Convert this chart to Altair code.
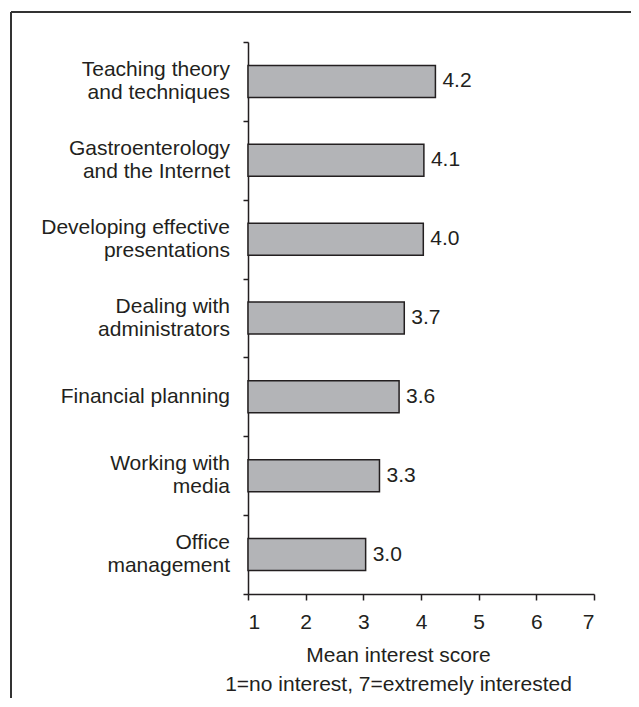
import altair as alt
import pandas as pd

categories = [
    "Teaching theory|and techniques",
    "Gastroenterology|and the Internet",
    "Developing effective|presentations",
    "Dealing with|administrators",
    "Financial planning",
    "Working with|media",
    "Office|management",
]
scores = [4.25, 4.05, 4.04, 3.71, 3.62, 3.28, 3.04]
score_labels = ["4.2", "4.1", "4.0", "3.7", "3.6", "3.3", "3.0"]
x_ticks = [1, 2, 3, 4, 5, 6, 7]
axis_title = ["Mean interest score", "1=no interest, 7=extremely interested"]

df = pd.DataFrame({"topic": categories, "score": scores, "label": score_labels})
frame_df = pd.DataFrame({"a": [0]})

FONT = "Liberation Sans, Arial, Helvetica, sans-serif"
INK = "#231f20"

y_scale = alt.Scale(paddingInner=0, paddingOuter=0)
x_scale = alt.Scale(domain=[1, 7], zero=False, nice=False)

y_axis = alt.Axis(
    title=None,
    labels=False,
    tickSize=5,
    tickBand="extent",
    tickColor=INK,
    tickWidth=1.5,
    domainColor=INK,
    domainWidth=1.5,
    grid=False,
)

x_axis = alt.Axis(
    values=x_ticks,
    format="d",
    title=axis_title,
    titleX=150,
    titleY=67.5,
    titleAlign="center",
    titleBaseline="alphabetic",
    titleFont=FONT,
    titleFontSize=21,
    titleFontWeight="normal",
    titleColor=INK,
    titleLineHeight=29,
    labelFont=FONT,
    labelFontSize=21,
    labelColor=INK,
    labelPadding=11,
    tickSize=6,
    tickColor=INK,
    tickWidth=1.5,
    domainColor=INK,
    domainWidth=1.5,
    grid=False,
)

bars = alt.Chart(df).mark_bar(
    fill="#b3b4b7", stroke=INK, strokeWidth=1.5, height={"band": 0.406}
).encode(
    y=alt.Y("topic:N", sort=None, scale=y_scale, axis=y_axis),
    x=alt.X("score:Q", scale=x_scale, axis=x_axis),
    x2=alt.datum(1),
)

values_text = alt.Chart(df).mark_text(
    align="left", baseline="middle", dx=7, font=FONT, fontSize=21, color=INK
).encode(
    y=alt.Y("topic:N", sort=None),
    x=alt.X("score:Q"),
    text="label:N",
)

cat_two = (
    alt.Chart(df)
    .transform_filter("indexof(datum.topic, '|') >= 0")
    .mark_text(
        align="right", baseline="middle", dy=-11.5, lineBreak="|", lineHeight=23,
        font=FONT, fontSize=21, color=INK,
    )
    .encode(y=alt.Y("topic:N", sort=None), x=alt.value(-18), text="topic:N")
)
cat_one = (
    alt.Chart(df)
    .transform_filter("indexof(datum.topic, '|') < 0")
    .mark_text(align="right", baseline="middle", font=FONT, fontSize=21, color=INK)
    .encode(y=alt.Y("topic:N", sort=None), x=alt.value(-18), text="topic:N")
)

frame_top = alt.Chart(frame_df).mark_rule(color="#333333", strokeWidth=2).encode(
    x=alt.value(-237), x2=alt.value(400), y=alt.value(-30)
)
frame_left = alt.Chart(frame_df).mark_rule(color="#333333", strokeWidth=2).encode(
    x=alt.value(-237), y=alt.value(-30), y2=alt.value(700)
)

chart = (
    alt.layer(frame_top, frame_left, bars, values_text, cat_two, cat_one)
    .properties(
        width=346,
        height=552,
        padding={"left": 240, "top": 34, "right": 37, "bottom": 104},
        autosize=alt.AutoSizeParams(type="none"),
    )
    .configure_view(stroke=None)
)

chart.save("out.html", embed_options={"renderer": "svg", "actions": False})
